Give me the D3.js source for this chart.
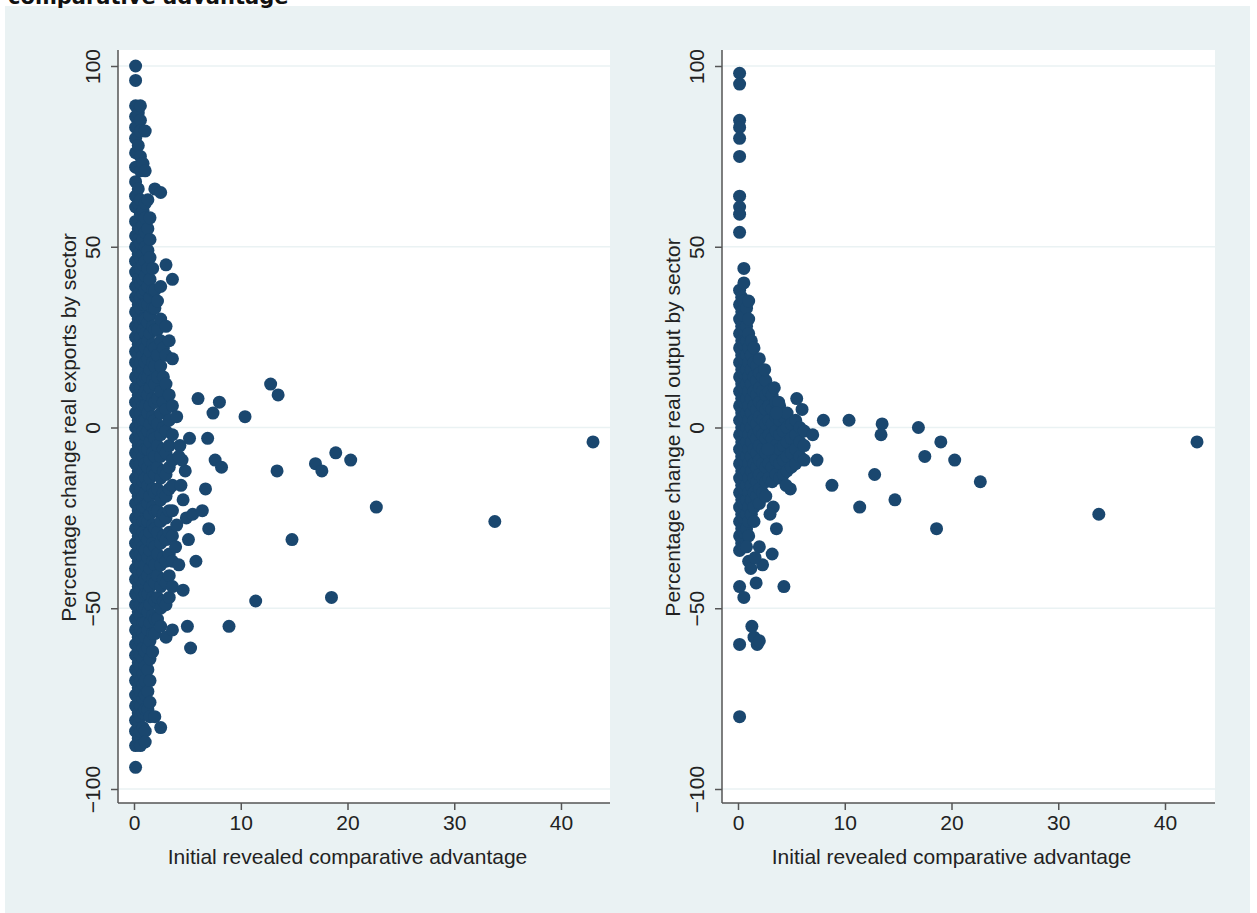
<!DOCTYPE html>
<html><head><meta charset="utf-8">
<script src="https://cdn.jsdelivr.net/npm/d3@7"></script>
<style>body{margin:0;background:#fff}svg{display:block;font-family:"Liberation Sans",Arial,sans-serif}</style>
</head><body><div id="chart"></div>
<script>
// column groups: [x, [y...]]
const leftColumns = [
  [0.15, [100,96,89,86,83,80,76,72,68,64,61,57,53,50,46,43,39,36,32,28,25,21,18,14,11,7,4,0,-3,-7,-10,-14,-17,-21,-25,-28,-32,-35,-39,-42,-46,-49,-53,-56,-60,-63,-67,-70,-74,-77,-81,-84,-88,-94]],
  [0.4, [87,78,66,62,55,52,48,44,41,37,34,30,27,23,20,16,13,9,6,2,-1,-5,-8,-12,-15,-19,-23,-26,-30,-33,-37,-40,-44,-47,-51,-54,-58,-61,-65,-68,-72,-75,-79,-82,-86]],
  [0.6, [89,85,82,75,71,63,59,55,51,47,44,40,36,33,29,25,22,18,15,11,8,4,1,-3,-6,-10,-13,-17,-20,-24,-28,-31,-35,-38,-42,-45,-49,-52,-56,-59,-63,-66,-70,-73,-77,-80,-84,-88]],
  [0.85, [73,60,56,52,48,45,41,37,34,30,27,23,20,16,13,9,6,2,-1,-5,-8,-12,-15,-19,-22,-26,-29,-33,-36,-40,-43,-47,-50,-54,-57,-61,-64,-68,-71,-75,-79,-83]],
  [1.05, [82,71,62,58,54,50,46,42,38,34,30,26,22,18,14,10,6,2,-2,-6,-10,-14,-18,-22,-26,-30,-34,-38,-42,-46,-50,-54,-58,-62,-66,-70,-74,-78,-84,-87]],
  [1.3, [63,55,49,44,39,34,29,24,19,14,9,4,-1,-6,-11,-16,-21,-26,-31,-36,-41,-46,-51,-56,-61,-67,-73,-78]],
  [1.5, [58,52,47,41,36,31,26,21,16,11,6,1,-4,-9,-14,-19,-24,-29,-34,-39,-44,-49,-54,-59,-64,-70,-76,-80]],
  [1.75, [44,38,33,28,23,18,13,8,3,-2,-7,-12,-17,-22,-27,-32,-37,-42,-47,-52,-57,-62]],
  [1.95, [66,38,33,27,22,17,12,7,2,-3,-8,-13,-18,-23,-28,-33,-38,-43,-48,-53,-57,-80]],
  [2.2, [35,27,20,14,8,1,-5,-11,-17,-23,-29,-35,-41,-47,-53]],
  [2.5, [65,39,30,24,17,10,4,-2,-8,-14,-20,-26,-32,-38,-44,-50,-55,-83]],
  [2.75, [22,14,7,0,-6,-12,-18,-24,-30,-36,-42,-48]],
  [3.0, [45,28,20,12,5,-1,-7,-13,-19,-25,-31,-37,-43,-49,-58]],
  [3.3, [24,9,2,-5,-11,-17,-23,-29,-35,-41,-47]],
  [3.6, [41,19,6,-2,-9,-16,-23,-30,-37,-44,-56]]
];
const leftOutliers = [[4,3],[4.3,-5],[4.6,-20],[4.9,-25],[5.2,-3],[5.5,-24],[5.1,-31],[4.6,-45],[5,-55],[5.3,-61],[5.8,-37],[4.8,-12],[4.5,-9],[6,8],[6.4,-23],[6.9,-3],[6.7,-17],[7,-28],[7.4,4],[8,7],[7.6,-9],[8.2,-11],[8.9,-55],[10.4,3],[11.4,-48],[12.8,12],[13.5,9],[13.4,-12],[14.8,-31],[17,-10],[17.6,-12],[18.9,-7],[20.3,-9],[18.5,-47],[22.7,-22],[33.8,-26],[43,-4],[4.2,-38],[4.4,-16],[4,-27],[3.9,-33],[4.2,-8]];

const rightColumns = [
  [0.15, [98,95,85,83,80,75,64,61,59,54,38,34,30,26,22,18,14,10,6,2,-2,-6,-10,-14,-18,-22,-26,-30,-34,-44,-60,-80]],
  [0.35, [36,32,28,24,20,16,12,8,4,0,-4,-8,-12,-16,-20,-24,-28,-32]],
  [0.55, [44,40,35,31,27,23,19,15,11,7,3,-1,-5,-9,-13,-17,-21,-25,-29,-33,-47]],
  [0.8, [33,28,24,20,16,12,8,4,0,-4,-8,-12,-16,-20,-24,-28]],
  [1.0, [35,30,26,22,18,14,10,6,2,-2,-6,-10,-14,-18,-22,-26,-30,-37]],
  [1.25, [24,20,16,12,8,4,0,-4,-8,-12,-16,-20,-24]],
  [1.5, [22,18,14,10,6,2,-2,-6,-10,-14,-18,-22,-26]],
  [1.75, [17,13,9,5,1,-3,-7,-11,-15,-19]],
  [2.0, [19,15,11,7,3,-1,-5,-9,-13,-17,-21]],
  [2.3, [14,10,6,2,-2,-6,-10,-14,-18]],
  [2.6, [13,9,5,1,-3,-7,-11,-15,-19]],
  [2.9, [10,6,2,-2,-6,-10,-14]],
  [3.2, [9,5,1,-3,-7,-11,-15]],
  [3.55, [7,3,-1,-5,-9,-13]],
  [3.9, [6,2,-2,-6,-10,-14]],
  [4.25, [3,-1,-5,-9,-13]],
  [4.6, [4,0,-4,-8,-12]],
  [5.0, [1,-3,-7,-11]],
  [5.4, [2,-2,-6,-10]],
  [5.8, [0,-4,-8]],
  [6.2, [-1,-5,-9]]
];
const rightOutliers = [[43,-4],[33.8,-24],[22.7,-15],[20.3,-9],[19,-4],[17.5,-8],[16.9,0],[18.6,-28],[14.7,-20],[13.5,1],[13.4,-2],[12.8,-13],[11.4,-22],[10.4,2],[8.8,-16],[8,2],[7.4,-9],[7,-2],[6,5],[5.5,8],[4.9,-17],[4.5,-16],[4.3,-44],[3.6,-28],[3.2,-35],[3.3,-22],[3,-24],[2.3,-38],[2,-33],[1.7,-43],[1.8,-60],[1.5,-58],[1.3,-55],[2,-59],[1.2,-39],[1.6,-36],[2.5,16],[3.4,11],[3.8,7],[3.6,4],[2.8,-6],[0.8,-33]];

const xTicks = [0, 10, 20, 30, 40];
const yTicks = [-100, -50, 0, 50, 100];
const xTitle = "Initial revealed comparative advantage";
const yTitles = ["Percentage change real exports by sector", "Percentage change real output by sector"];

const W = 1257, H = 913, navy = "#1a476f";
const svg = d3.select("#chart").append("svg").attr("width", W).attr("height", H);
svg.append("rect").attr("x", 5).attr("y", 6).attr("width", 1245).attr("height", 907).attr("fill", "#eaf2f3");
svg.append("text").attr("x", 8).attr("y", 4).attr("font-family", "DejaVu Sans").attr("font-weight", "bold")
  .attr("font-size", 21).attr("fill", "#111").text("comparative advantage");

function panel(left, right, columns, outliers, yTitle) {
  const top = 50, bottom = 803;
  const x = d3.scaleLinear().domain([0, 40]).range([left + 16, left + 443]);
  const y = d3.scaleLinear().domain([-100, 100]).range([789, 66]);
  const g = svg.append("g");
  g.append("rect").attr("x", left).attr("y", top).attr("width", right - left).attr("height", bottom - top).attr("fill", "#fff");
  g.selectAll(".grid").data(yTicks).join("line")
    .attr("x1", left).attr("x2", right).attr("y1", d => y(d)).attr("y2", d => y(d))
    .attr("stroke", "#eaf2f3").attr("stroke-width", 1.5);

  const pts = [];
  columns.forEach(([cx, ys]) => ys.forEach(v => pts.push([cx, v])));
  outliers.forEach(p => pts.push(p));
  g.selectAll("circle").data(pts).join("circle")
    .attr("cx", d => x(d[0])).attr("cy", d => y(d[1])).attr("r", 6.5).attr("fill", navy);

  const xa = g.append("g").attr("transform", `translate(0,${bottom})`)
    .call(d3.axisBottom(x).tickValues(xTicks).tickSize(7).tickPadding(5).tickFormat(d3.format("d")));
  xa.select(".domain").attr("d", `M${left},0H${right}`);
  const ya = g.append("g").attr("transform", `translate(${left},0)`)
    .call(d3.axisLeft(y).tickValues(yTicks).tickSize(7).tickFormat(d3.format("d")));
  ya.select(".domain").attr("d", `M0,${top}V${bottom}`);
  ya.selectAll(".tick text").attr("transform", "rotate(-90)").attr("text-anchor", "middle")
    .attr("x", 0).attr("y", -18).attr("dy", 0);
  [xa, ya].forEach(a => {
    a.selectAll("path,line").attr("stroke", "#555").attr("stroke-width", 1.5);
    a.selectAll("text").attr("font-size", 21).attr("fill", "#222").attr("font-family", "Liberation Sans");
  });
  g.append("text").attr("x", x(20)).attr("y", 864).attr("text-anchor", "middle")
    .attr("font-size", 21).attr("fill", "#222").text(xTitle);
  g.append("text").attr("transform", `translate(${left - 42},${y(0)}) rotate(-90)`).attr("text-anchor", "middle")
    .attr("font-size", 21).attr("fill", "#222").text(yTitle);
}
panel(118, 610, leftColumns, leftOutliers, yTitles[0]);
panel(722, 1215, rightColumns, rightOutliers, yTitles[1]);
</script></body></html>
